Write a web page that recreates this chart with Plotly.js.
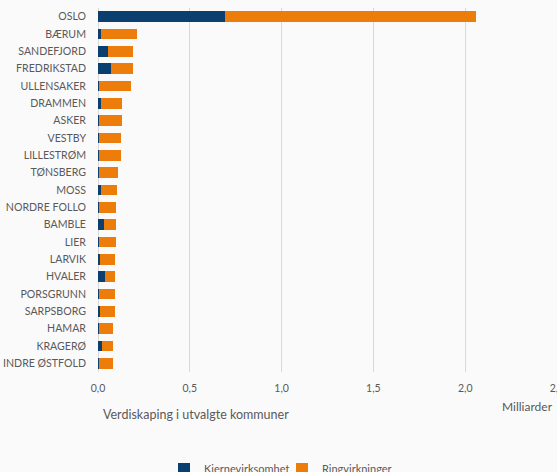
<!DOCTYPE html>
<html>
<head>
<meta charset="utf-8">
<script src="https://cdn.plot.ly/plotly-3.0.1.min.js"></script>
<style>
html,body{margin:0;padding:0;background:#fbfafb;}
#chart{width:557px;height:472px;}
</style>
</head>
<body>
<div id="chart"></div>
<script>
const kommuner = ["OSLO","BÆRUM","SANDEFJORD","FREDRIKSTAD","ULLENSAKER","DRAMMEN","ASKER","VESTBY","LILLESTRØM","TØNSBERG","MOSS","NORDRE FOLLO","BAMBLE","LIER","LARVIK","HVALER","PORSGRUNN","SARPSBORG","HAMAR","KRAGERØ","INDRE ØSTFOLD"];
const kjernevirksomhet = [0.69,0.015,0.055,0.07,0.003,0.015,0.006,0.006,0.003,0.006,0.015,0.003,0.032,0.003,0.012,0.037,0.006,0.01,0.007,0.02,0.003];
const ringvirkninger = [1.37,0.195,0.135,0.118,0.176,0.118,0.124,0.12,0.121,0.104,0.089,0.097,0.067,0.095,0.081,0.056,0.087,0.081,0.077,0.064,0.079];
const xTicks = [0,0.5,1.0,1.5,2.0,2.5];

const font = "Lato, 'Open Sans', sans-serif";
const grey = "#595959";

const data = [
  {type:"bar", orientation:"h", name:"Kjernevirksomhet", y:kommuner, x:kjernevirksomhet,
   marker:{color:"#0b3f6f", line:{width:0}}, hoverinfo:"x+y"},
  {type:"bar", orientation:"h", name:"Ringvirkninger", y:kommuner, x:ringvirkninger,
   marker:{color:"#ed7d0a", line:{width:0}}, hoverinfo:"x+y"}
];

const layout = {
  width:557, height:472,
  paper_bgcolor:"#fbfafb", plot_bgcolor:"#fbfafb",
  margin:{l:98, r:0, t:8, b:100},
  barmode:"stack", bargap:0.37,
  separators:",.",
  font:{family:font, color:grey, size:11},
  xaxis:{range:[0,2.5], tickvals:xTicks, tickformat:".1f", showgrid:true, gridcolor:"#d9d9d9", gridwidth:1,
         zeroline:true, zerolinecolor:"#d9d9d9", zerolinewidth:1, showline:false, ticks:"",
         ticklabeloverflow:"allow", automargin:false, ticklabelstandoff:8,
         tickfont:{family:font, size:10.5, color:grey}, fixedrange:true},
  yaxis:{type:"category", autorange:"reversed", showgrid:false, zeroline:false, showline:false, ticks:"",
         automargin:false, ticklabelstandoff:11, tickfont:{family:font, size:10.6, color:grey}, fixedrange:true},
  showlegend:true,
  legend:{orientation:"h", x:0.1438, xanchor:"left", xref:"paper", yref:"container", y:0.037, yanchor:"top",
          font:{family:font, size:11, color:grey}, itemwidth:30, entrywidth:73, entrywidthmode:"pixels",
          traceorder:"normal", bgcolor:"rgba(0,0,0,0)"},
  annotations:[
    {text:"Verdiskaping i utvalgte kommuner", xref:"paper", yref:"paper", x:0.006, y:-0.09,
     xanchor:"left", yanchor:"top", showarrow:false, font:{family:font, size:12.5, color:grey}},
    {text:"Milliarder", xref:"paper", yref:"paper", x:0.996, y:-0.068,
     xanchor:"right", yanchor:"top", showarrow:false, font:{family:font, size:12, color:grey}}
  ]
};

Plotly.newPlot("chart", data, layout, {displayModeBar:false, staticPlot:true});
</script>
</body>
</html>
